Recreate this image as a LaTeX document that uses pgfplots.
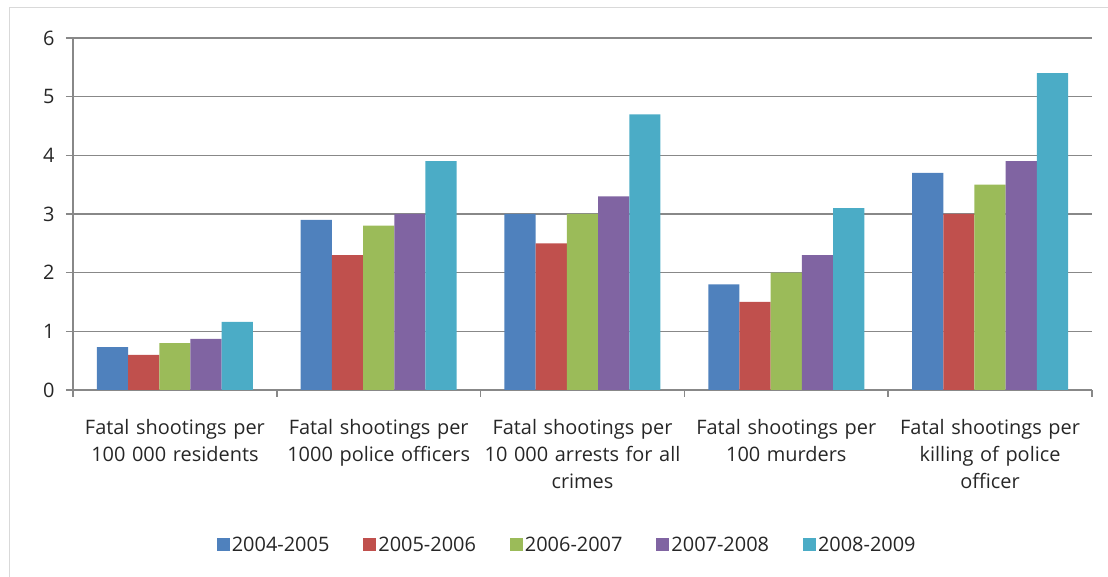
\documentclass[border=0pt]{standalone}
\usepackage{pgfplots}
\pgfplotsset{compat=1.18}
\usepackage{fontspec}
\setmainfont{Open Sans}

\definecolor{c1}{HTML}{4F81BD}
\definecolor{c2}{HTML}{C0504D}
\definecolor{c3}{HTML}{9BBB59}
\definecolor{c4}{HTML}{8064A2}
\definecolor{c5}{HTML}{4BACC6}
\definecolor{gridc}{HTML}{888888}
\definecolor{framec}{HTML}{D9D9D9}
\definecolor{txt}{HTML}{262626}

\begin{document}
\begin{tikzpicture}[x=1bp,y=1bp]
\path[use as bounding box] (-73,-187) rectangle (1035,390);
\draw[framec, line width=1bp] (-63,-260) -- (-63,382) -- (1100,382);
\begin{axis}[
    at={(0,0)}, anchor=south west,
    scale only axis, width=1019bp, height=352bp,
    ybar=0pt, bar width=31.2bp,
    xmin=-0.5, xmax=4.5, ymin=0, ymax=6,
    axis x line*=bottom, axis y line*=left,
    axis line style={gridc, line width=1.5bp},
    ytick={0,...,6},
    ymajorgrids, grid style={gridc, line width=1.5bp},
    xtick={0,...,4},
    xticklabels={{Fatal shootings per\\100 000 residents},
                 {Fatal shootings per\\1000 police officers},
                 {Fatal shootings per\\10 000 arrests for all\\crimes},
                 {Fatal shootings per\\100 murders},
                 {Fatal shootings per\\killing of police\\officer}},
    minor xtick={-0.5,0.5,...,4.5},
    tick align=outside, major tick length=7bp, minor tick length=7bp,
    tick style={gridc, line width=1.5bp},
    every major x tick/.append style={draw=none},
    xticklabel style={text width=200bp, align=center, text=txt,
        font=\fontsize{20}{27}\selectfont, yshift=-19bp},
    yticklabel style={text=txt, font=\fontsize{20}{24}\selectfont, xshift=-8bp},
    /pgf/number format/assume math mode=true,
    legend columns=-1,
    legend style={at={(0.485,-0.44)}, anchor=center, draw=none,
        font=\fontsize{20}{24}\selectfont, text=txt,
        nodes={inner sep=2bp},
        /tikz/every even column/.append style={column sep=32bp}},
    legend image code/.code={\fill[#1] (0bp,-6.5bp) rectangle (13bp,6.5bp);},
  ]
  \addplot[fill=c1, draw=none] coordinates {(0,0.73) (1,2.9) (2,3.0) (3,1.8) (4,3.7)};
  \addplot[fill=c2, draw=none] coordinates {(0,0.6) (1,2.3) (2,2.5) (3,1.5) (4,3.0)};
  \addplot[fill=c3, draw=none] coordinates {(0,0.8) (1,2.8) (2,3.0) (3,2.0) (4,3.5)};
  \addplot[fill=c4, draw=none] coordinates {(0,0.87) (1,3.0) (2,3.3) (3,2.3) (4,3.9)};
  \addplot[fill=c5, draw=none] coordinates {(0,1.16) (1,3.9) (2,4.7) (3,3.1) (4,5.4)};
  \legend{2004-2005, 2005-2006, 2006-2007, 2007-2008, 2008-2009}
\end{axis}
\end{tikzpicture}
\end{document}
